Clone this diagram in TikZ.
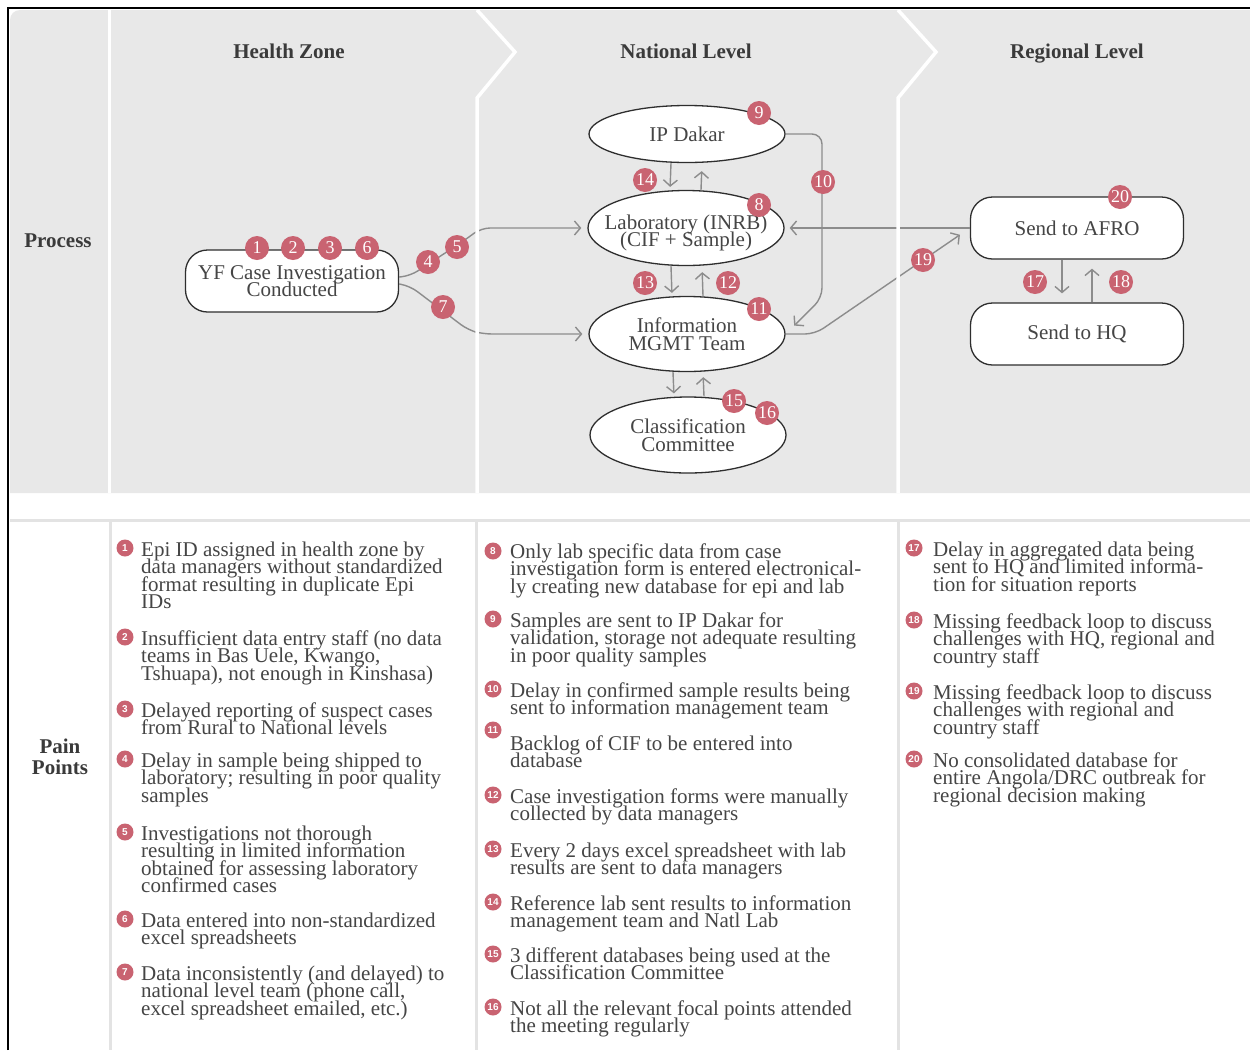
\documentclass[tikz,border=0pt]{standalone}
\usepackage{fontspec}
\setmainfont{Liberation Serif}
\newfontfamily\numfont{Liberation Sans}
\usetikzlibrary{shapes.geometric,arrows.meta,calc}
\definecolor{panel}{HTML}{E8E8E8}
\definecolor{sepline}{HTML}{E3E3E3}
\definecolor{badgeclr}{RGB}{201,99,113}
\definecolor{txtclr}{HTML}{454545}
\definecolor{hdrclr}{HTML}{3A3A3A}
\definecolor{linkclr}{HTML}{8C8C8C}
\definecolor{edgeclr}{HTML}{2E2E2E}
\newcommand\painitem[6]{%
  \node[pbullet] (pb#1) at (#2,#3) {#1};
  \node[ptext] (pt#1) at (#4,#5-16) {\rule{0pt}{16pt}#6};}
\begin{document}
\begin{tikzpicture}[x=1pt,y=-1pt,
  bodyfont/.style={font={\fontsize{21}{17.5}\selectfont\lineskiplimit=-100pt}},
  procbox/.style={draw=edgeclr, line width=1.3pt, fill=white, rounded corners=22pt,
    minimum width=213pt, minimum height=62pt, inner sep=0pt, align=center, text=txtclr, bodyfont},
  procell/.style={ellipse, draw=edgeclr, line width=1.3pt, fill=white, inner sep=0pt, minimum width=196pt},
  elltext/.style={align=center, text=txtclr, inner sep=0pt, bodyfont},
  badge/.style={circle, fill=badgeclr, text=white, minimum size=24pt, inner sep=0pt,
    font={\fontsize{18}{18}\selectfont}},
  pbullet/.style={circle, fill=badgeclr, text=white, minimum size=17pt, inner sep=0pt,
    font={\numfont\bfseries\fontsize{10}{10}\selectfont}},
  ptext/.style={anchor=north west, align=left, text=txtclr, inner sep=0pt, bodyfont},
  hdr/.style={text=hdrclr, inner sep=0pt, font={\bfseries\fontsize{21}{21}\selectfont\lineskiplimit=-100pt}},
  link/.style={draw=linkclr, line width=1.4pt, -{Straight Barb[length=6pt,width=14pt]}},
  sep/.style={draw=white, line width=3.5pt},
  botsep/.style={draw=sepline, line width=3pt}]
\useasboundingbox (0,0) rectangle (1250,1050);
\fill[white] (0,0) rectangle (1250,1050);
% grey process band
\fill[panel] (10,493) -- (10,20) arc[start angle=180, end angle=270, radius=10] -- (1250,10) -- (1250,493) -- cycle;

% process nodes
\node[procbox] (yf) at (292,281) {YF Case Investigation\\Conducted};
\node[procell, minimum height=57pt, label={[elltext]center:IP Dakar}] (ipd) at (687,134) {};
\node[procell, minimum height=75pt, label={[elltext, yshift=-5pt]center:{Laboratory (INRB)\\(CIF + Sample)}}] (lab) at (686,228) {};
\node[procell, minimum height=75pt, label={[elltext]center:{Information\\MGMT Team}}] (info) at (687,334) {};
\node[procell, minimum height=76pt, label={[elltext]center:{Classification\\Committee}}] (cls) at (688,435) {};
\node[procbox] (afro) at (1077,228) {Send to AFRO};
\node[procbox] (hq) at (1077,334) {Send to HQ};

% connectors
\draw[link, rounded corners=9pt, shorten >=6pt] ([yshift=4pt]yf.east) -- (410,276) -- (465,240) -- (481,228) -- (lab.west);
\draw[link, rounded corners=9pt, shorten >=6pt] ([yshift=-3pt]yf.east) -- (410,286) -- (468,330) -- (483,334) -- (info.west);
\draw[link, rounded corners=10pt, shorten >=12pt] (ipd.east) -- (822,134) -- (822,298) -- (info.east);
\draw[link, rounded corners=10pt, shorten >=12pt] (info.east) -- (815,334) -- (afro.west);
\draw[link, shorten >=5pt] (afro.west) -- (lab.east);
\draw[link, shorten >=3pt] ([xshift=-16pt]ipd.south) -- ([xshift=-16pt]lab.north);
\draw[link, shorten >=8pt] ([xshift=15pt]lab.north) -- ([xshift=15pt]ipd.south);
\draw[link, shorten >=3pt] ([xshift=-15pt]lab.south) -- ([xshift=-15pt]info.north);
\draw[link, shorten >=6pt] ([xshift=16pt]info.north) -- ([xshift=16pt]lab.south);
\draw[link, shorten >=3pt] ([xshift=-14pt]info.south) -- ([xshift=-14pt]cls.north);
\draw[link, shorten >=5pt] ([xshift=16pt]cls.north) -- ([xshift=16pt]info.south);
\draw[link, shorten >=9pt] ([xshift=-15pt]afro.south) -- ([xshift=-15pt]hq.north);
\draw[link, shorten >=9pt] ([xshift=15pt]hq.north) -- ([xshift=15pt]afro.south);

% white separators of the band
\draw[sep] (109.5,10) -- (109.5,493);
\draw[sep] (477,10) -- (515,52) -- (477,98) -- (477,493);
\draw[sep] (898,10) -- (936,52) -- (898,98) -- (898,493);

% badges
\node[badge] (b1) at (257,248) {1};
\node[badge] (b2) at (293,248) {2};
\node[badge] (b3) at (330,248) {3};
\node[badge] (b6) at (367,248) {6};
\node[badge] (b4) at (428,262) {4};
\node[badge] (b5) at (457,247) {5};
\node[badge] (b7) at (443,307) {7};
\node[badge] (b9) at (759,113) {9};
\node[badge] (b14) at (645,180) {14};
\node[badge] (b10) at (823,182) {10};
\node[badge] (b8) at (759,205) {8};
\node[badge] (b13) at (645,283) {13};
\node[badge] (b12) at (728,283) {12};
\node[badge] (b11) at (759,309) {11};
\node[badge] (b15) at (734,401) {15};
\node[badge] (b16) at (767,413) {16};
\node[badge] (b19) at (923,260) {19};
\node[badge] (b20) at (1120,197) {20};
\node[badge] (b17) at (1035,282) {17};
\node[badge] (b18) at (1121,282) {18};

% headers
\node[hdr, anchor=base] (hhz) at (289,58) {Health Zone};
\node[hdr, anchor=base] (hnl) at (686,58) {National Level};
\node[hdr, anchor=base] (hrl) at (1077,58) {Regional Level};
\node[hdr, anchor=base] (hpr) at (58,247) {Process};
\node[hdr, anchor=north, align=center] (hpp) at (60,737) {\rule{0pt}{16pt}Pain\\Points};

% pain point section lines
\draw[botsep] (10,520) -- (1250,520);
\draw[botsep] (110,520) -- (110,1050);
\draw[botsep] (476,520) -- (476,1050);
\draw[botsep] (898,520) -- (898,1050);

% outer black border
\draw[black, line width=2pt] (8,1050) -- (8,8) -- (1250,8);

% pain points
\painitem{1}{125}{548}{141}{556}{Epi ID assigned in health zone by\\data managers without standardized\\format resulting in duplicate Epi\\IDs}
\painitem{2}{125}{637}{141}{645}{Insufficient data entry staff (no data\\teams in Bas Uele, Kwango,\\Tshuapa), not enough in Kinshasa)}
\painitem{3}{125}{709}{141}{717}{Delayed reporting of suspect cases\\from Rural to National levels}
\painitem{4}{125}{759}{141}{767}{Delay in sample being shipped to\\laboratory; resulting in poor quality\\samples}
\painitem{5}{125}{832}{141}{840}{Investigations not thorough\\resulting in limited information\\obtained for assessing laboratory\\confirmed cases}
\painitem{6}{125}{919}{141}{927}{Data entered into non-standardized\\excel spreadsheets}
\painitem{7}{125}{972}{141}{980}{Data inconsistently (and delayed) to\\national level team (phone call,\\excel spreadsheet emailed, etc.)}

\painitem{8}{493}{551}{510}{558}{Only lab specific data from case\\investigation form is entered electronical-\\ly creating new database for epi and lab}
\painitem{9}{493}{619}{510}{627}{Samples are sent to IP Dakar for\\validation, storage not adequate resulting\\in poor quality samples}
\painitem{10}{493}{689}{510}{697}{Delay in confirmed sample results being\\sent to information management team}
\painitem{11}{493}{730}{510}{750}{Backlog of CIF to be entered into\\database}
\painitem{12}{493}{795}{510}{803}{Case investigation forms were manually\\collected by data managers}
\painitem{13}{493}{849}{510}{857}{Every 2 days excel spreadsheet with lab\\results are sent to data managers}
\painitem{14}{493}{902}{510}{910}{Reference lab sent results to information\\management team and Natl Lab}
\painitem{15}{493}{954}{510}{962}{3 different databases being used at the\\Classification Committee}
\painitem{16}{493}{1007}{510}{1015}{Not all the relevant focal points attended\\the meeting regularly}

\painitem{17}{914}{548}{933}{556}{Delay in aggregated data being\\sent to HQ and limited informa-\\tion for situation reports}
\painitem{18}{914}{620}{933}{628}{Missing feedback loop to discuss\\challenges with HQ, regional and\\country staff}
\painitem{19}{914}{691}{933}{699}{Missing feedback loop to discuss\\challenges with regional and\\country staff}
\painitem{20}{914}{759}{933}{767}{No consolidated database for\\entire Angola/DRC outbreak for\\regional decision making}
\end{tikzpicture}
\end{document}
